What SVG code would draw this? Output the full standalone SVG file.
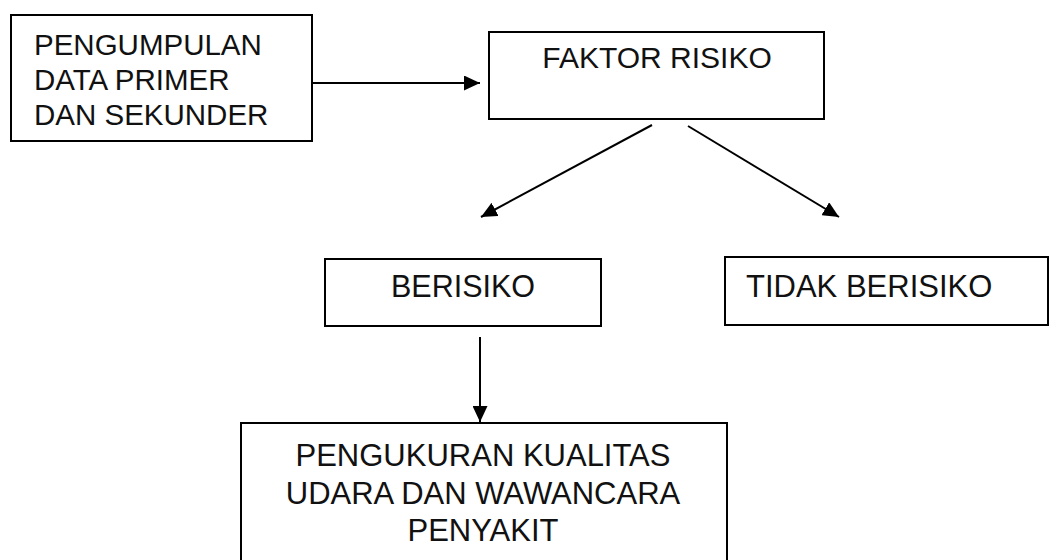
<svg xmlns="http://www.w3.org/2000/svg" width="1049" height="560" viewBox="0 0 1049 560">
  <style>
    .box { fill: #ffffff; stroke: #000000; stroke-width: 2; }
    .lbl { font-family: "Liberation Sans", Arial, sans-serif; font-size: 30px; fill: #111111; }
    .edge { stroke: #000000; stroke-width: 2; fill: none; marker-end: url(#arrow); }
  </style>
  <defs>
    <marker id="arrow" markerUnits="userSpaceOnUse" markerWidth="17" markerHeight="15" refX="16" refY="7.5" orient="auto">
      <path d="M0,0 L16,7.5 L0,15 Z" fill="#000000"/>
    </marker>
  </defs>
  <rect width="1049" height="560" fill="#ffffff"/>

  <g id="connectors">
    <line class="edge" x1="312" y1="83" x2="480" y2="83"/>
    <line class="edge" x1="652" y1="125" x2="481" y2="217"/>
    <line class="edge" x1="688" y1="126" x2="839" y2="217"/>
    <line class="edge" x1="480" y1="337" x2="480" y2="422"/>
  </g>

  <g id="pengumpulan">
    <rect class="box" x="11" y="15" width="301" height="126"/>
    <text class="lbl" style="font-size:29.5px" x="34" y="55">PENGUMPULAN</text>
    <text class="lbl" style="font-size:29.5px" x="34" y="90">DATA PRIMER</text>
    <text class="lbl" style="font-size:29.5px" x="34" y="125">DAN SEKUNDER</text>
  </g>

  <g id="faktor-risiko">
    <rect class="box" x="489" y="32" width="335" height="87"/>
    <text class="lbl" x="657" y="68" text-anchor="middle">FAKTOR RISIKO</text>
  </g>

  <g id="berisiko">
    <rect class="box" x="325" y="259" width="276" height="67"/>
    <text class="lbl" style="font-size:30.5px" x="463" y="297" text-anchor="middle">BERISIKO</text>
  </g>

  <g id="tidak-berisiko">
    <rect class="box" x="725" y="257" width="323" height="68"/>
    <text class="lbl" style="font-size:31px" x="746" y="297">TIDAK BERISIKO</text>
  </g>

  <g id="pengukuran">
    <rect class="box" x="241" y="423" width="486" height="160"/>
    <text class="lbl" style="font-size:31px" x="483" y="466" text-anchor="middle">PENGUKURAN KUALITAS</text>
    <text class="lbl" style="font-size:31px" x="483" y="504" text-anchor="middle">UDARA DAN WAWANCARA</text>
    <text class="lbl" style="font-size:31px" x="483" y="541" text-anchor="middle">PENYAKIT</text>
  </g>
</svg>
